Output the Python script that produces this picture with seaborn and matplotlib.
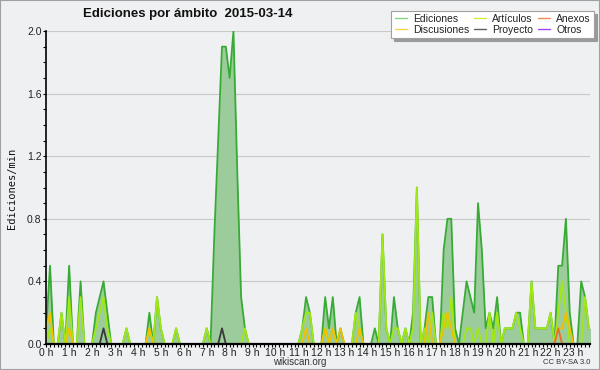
import matplotlib
matplotlib.use("Agg")
import matplotlib.pyplot as plt
from matplotlib.lines import Line2D
from matplotlib.patches import Rectangle
from matplotlib.ticker import MultipleLocator, FixedLocator
import pandas as pd
import seaborn as sns

# edits per minute, one value per 10-minute slot (00:00 .. 23:50)
ediciones = [
    0.1, 0.5, 0, 0, 0.2, 0, 0.5, 0, 0, 0.4, 0, 0,
    0, 0.2, 0.3, 0.4, 0.2, 0, 0, 0, 0, 0.1, 0, 0,
    0, 0, 0, 0.2, 0, 0.3, 0.1, 0, 0, 0, 0.1, 0,
    0, 0, 0, 0, 0, 0, 0.1, 0, 0.7, 1.3, 1.9, 1.9,
    1.7, 2.0, 1.1, 0.3, 0.1, 0, 0, 0, 0, 0, 0, 0,
    0, 0, 0, 0, 0, 0, 0, 0.1, 0.3, 0.2, 0, 0,
    0, 0.3, 0.1, 0.3, 0, 0.1, 0, 0, 0, 0.2, 0.3, 0,
    0, 0, 0.1, 0, 0.7, 0.1, 0, 0.3, 0.1, 0, 0.1, 0,
    0.2, 1.0, 0, 0.1, 0.3, 0.3, 0, 0, 0.6, 0.8, 0.8, 0.1,
    0, 0.2, 0.4, 0.3, 0.2, 0.9, 0.6, 0.1, 0.2, 0.1, 0.3, 0,
    0.1, 0.1, 0.1, 0.2, 0.2, 0, 0, 0.4, 0.1, 0.1, 0.1, 0.1,
    0.2, 0, 0.5, 0.5, 0.8, 0.2, 0, 0, 0.4, 0.3, 0.1, 0.1,
]
articulos = [
    0, 0.1, 0, 0, 0.2, 0, 0.3, 0, 0, 0.3, 0, 0,
    0, 0.1, 0.2, 0.3, 0.1, 0, 0, 0, 0, 0.1, 0, 0,
    0, 0, 0, 0.1, 0, 0.3, 0.1, 0, 0, 0, 0.1, 0,
    0, 0, 0, 0, 0, 0, 0.1, 0, 0, 0, 0, 0,
    0, 0, 0, 0, 0.1, 0, 0, 0, 0, 0, 0, 0,
    0, 0, 0, 0, 0, 0, 0, 0.1, 0.2, 0.2, 0, 0,
    0, 0.1, 0, 0.1, 0, 0, 0, 0, 0, 0.2, 0.1, 0,
    0, 0, 0, 0, 0.7, 0.1, 0, 0.1, 0.1, 0, 0.1, 0,
    0.1, 1.0, 0, 0.1, 0, 0.2, 0, 0, 0.2, 0.1, 0.3, 0,
    0, 0, 0.1, 0.1, 0, 0.1, 0, 0, 0.2, 0, 0.2, 0,
    0.1, 0.1, 0.1, 0.2, 0.1, 0, 0, 0.4, 0.1, 0.1, 0.1, 0.1,
    0.2, 0, 0.2, 0.4, 0.2, 0, 0, 0, 0, 0.3, 0.1, 0.1,
]
discusiones = [
    0.1, 0.2, 0, 0, 0, 0, 0.1, 0, 0, 0, 0, 0,
    0, 0, 0, 0, 0, 0, 0, 0, 0, 0, 0, 0,
    0, 0, 0, 0.1, 0, 0, 0, 0, 0, 0, 0, 0,
    0, 0, 0, 0, 0, 0, 0, 0, 0, 0, 0, 0,
    0, 0, 0, 0, 0, 0, 0, 0, 0, 0, 0, 0,
    0, 0, 0, 0, 0, 0, 0, 0, 0.1, 0, 0, 0,
    0, 0.1, 0, 0.1, 0, 0.1, 0, 0, 0, 0, 0.1, 0,
    0, 0, 0, 0, 0, 0, 0, 0, 0, 0, 0, 0,
    0, 0, 0, 0, 0.2, 0, 0, 0, 0.1, 0.2, 0.1, 0,
    0, 0, 0, 0, 0, 0, 0, 0, 0, 0, 0, 0,
    0, 0, 0, 0, 0, 0, 0, 0, 0, 0, 0, 0,
    0, 0, 0.1, 0.1, 0.2, 0.1, 0, 0, 0, 0, 0, 0,
]
anexos = [
    0, 0, 0, 0, 0, 0, 0, 0, 0, 0, 0, 0,
    0, 0, 0, 0, 0, 0, 0, 0, 0, 0, 0, 0,
    0, 0, 0, 0, 0, 0, 0, 0, 0, 0, 0, 0,
    0, 0, 0, 0, 0, 0, 0, 0, 0, 0, 0, 0,
    0, 0, 0, 0, 0, 0, 0, 0, 0, 0, 0, 0,
    0, 0, 0, 0, 0, 0, 0, 0, 0, 0, 0, 0,
    0, 0, 0, 0, 0, 0, 0, 0, 0, 0, 0, 0,
    0, 0, 0, 0, 0, 0, 0, 0, 0, 0, 0, 0,
    0, 0, 0, 0, 0, 0, 0, 0, 0, 0, 0, 0,
    0, 0, 0, 0, 0, 0, 0, 0, 0, 0, 0, 0,
    0, 0, 0, 0, 0, 0, 0, 0, 0, 0, 0, 0,
    0, 0, 0.1, 0, 0, 0, 0, 0, 0, 0, 0, 0,
]
proyecto = [
    0, 0, 0, 0, 0, 0, 0, 0, 0, 0, 0, 0,
    0, 0, 0, 0.1, 0, 0, 0, 0, 0, 0, 0, 0,
    0, 0, 0, 0, 0, 0, 0, 0, 0, 0, 0, 0,
    0, 0, 0, 0, 0, 0, 0, 0, 0, 0, 0.1, 0,
    0, 0, 0, 0, 0, 0, 0, 0, 0, 0, 0, 0,
    0, 0, 0, 0, 0, 0, 0, 0, 0, 0, 0, 0,
    0, 0, 0, 0, 0, 0, 0, 0, 0, 0, 0, 0,
    0, 0, 0, 0, 0, 0, 0, 0, 0, 0, 0, 0,
    0, 0, 0, 0, 0, 0, 0, 0, 0, 0, 0, 0,
    0, 0, 0, 0, 0, 0, 0, 0, 0, 0, 0, 0,
    0, 0, 0, 0, 0, 0, 0, 0, 0, 0, 0, 0,
    0, 0, 0, 0, 0, 0, 0, 0, 0, 0, 0, 0,
]
otros = [0] * 144

hour_labels = [f"{h} h" for h in range(24)]
y_labels = ["0.0", "0.4", "0.8", "1.2", "1.6", "2.0"]

series = {
    "Ediciones": ediciones,
    "Artículos": articulos,
    "Discusiones": discusiones,
    "Anexos": anexos,
    "Proyecto": proyecto,
    "Otros": otros,
}
line_colors = {
    "Ediciones": "#38ab35",
    "Artículos": "#a2e812",
    "Discusiones": "#f2c000",
    "Anexos": "#f06a28",
    "Proyecto": "#3a3a3a",
    "Otros": "#8a3ff0",
}
legend_colors = {
    "Ediciones": "#86d486",
    "Artículos": "#c8f040",
    "Discusiones": "#f8d448",
    "Anexos": "#f58a55",
    "Proyecto": "#606060",
    "Otros": "#9a4af5",
}

df = pd.DataFrame(series)
df["slot"] = range(len(df))
long = df.melt(id_vars="slot", var_name="serie", value_name="value")

BG = "#eff0f1"
sns.set_theme(style="white")
plt.rcParams["font.family"] = ["Liberation Sans", "DejaVu Sans"]

fig = plt.figure(figsize=(6, 3.7), dpi=100, facecolor=BG)
ax = fig.add_axes([46.2 / 600, 26 / 370, (590 - 46.2) / 600, 313 / 370])
ax.set_facecolor(BG)

ax.fill_between(df["slot"], df["Ediciones"], color="#9ccb9c", lw=0, zorder=1)
sns.lineplot(data=long, x="slot", y="value", hue="serie", hue_order=list(series),
             palette=line_colors, lw=1.3, legend=False, ax=ax, zorder=2)

ax.set_xlim(0, 142.3)
ax.set_ylim(0, 2.0)
ax.xaxis.set_major_locator(FixedLocator([6 * h for h in range(24)]))
ax.set_xticklabels(hour_labels)
ax.xaxis.set_minor_locator(MultipleLocator(1))
ax.yaxis.set_major_locator(FixedLocator([0, 0.4, 0.8, 1.2, 1.6, 2.0]))
ax.set_yticklabels(y_labels)
ax.yaxis.set_minor_locator(MultipleLocator(0.1))
ax.tick_params(which="both", direction="out", length=2.3, width=0.8, color="black",
               labelsize=7.5, labelcolor="#222222", pad=0.5)
ax.tick_params(axis="x", which="both", bottom=True)
ax.tick_params(axis="y", which="both", left=True, pad=1)
ax.grid(axis="y", which="major", color="#c8c8c8", lw=0.8)
ax.set_axisbelow(True)
ax.set_xlabel("")
ax.set_ylabel("")

for side in ["top", "right"]:
    ax.spines[side].set_visible(False)
ax.spines["left"].set_linewidth(1.2)
ax.spines["bottom"].set_linewidth(1.6)
for side in ["left", "bottom"]:
    ax.spines[side].set_color("black")
    ax.spines[side].set_zorder(3)

fig.text(188 / 600, 1 - 14 / 370, "Ediciones por ámbito  2015-03-14", ha="center", va="center",
         fontsize=9.5, fontweight="bold", color="#111111")
fig.text(12 / 600, 1 - 188 / 370, "Ediciones/min", rotation=90, ha="center", va="center",
         fontsize=7.5, family="DejaVu Sans Mono", color="#111111")
fig.text(300 / 600, 1 - 362 / 370, "wikiscan.org", ha="center", va="center", fontsize=7, color="#333333")
fig.text(590 / 600, 1 - 362.5 / 370, "CC BY-SA 3.0", ha="right", va="center", fontsize=5.5, color="#333333")

order = ["Ediciones", "Discusiones", "Artículos", "Proyecto", "Anexos", "Otros"]
handles = [Line2D([], [], color=legend_colors[k], lw=1) for k in order]
leg = fig.legend(handles, order, ncol=3, loc="upper right", bbox_to_anchor=(594 / 600, 1 - 11 / 370),
                 frameon=True, fancybox=False, shadow={"color": "#9a9a9a", "alpha": 1},
                 fontsize=7.5, handlelength=1.2, handletextpad=0.6, columnspacing=0.4,
                 borderpad=0.3, labelspacing=0.05, borderaxespad=0)
leg.get_frame().set_edgecolor("#a0a0a0")
leg.get_frame().set_facecolor("white")
leg.get_frame().set_linewidth(0.8)
for t in leg.get_texts():
    t.set_color("#222222")

fig.patches.append(Rectangle((0, 0), 1, 1, transform=fig.transFigure, fill=False,
                             edgecolor="#a0a0a0", lw=1.5))

fig.savefig("out.png", dpi=100, facecolor=fig.get_facecolor())
